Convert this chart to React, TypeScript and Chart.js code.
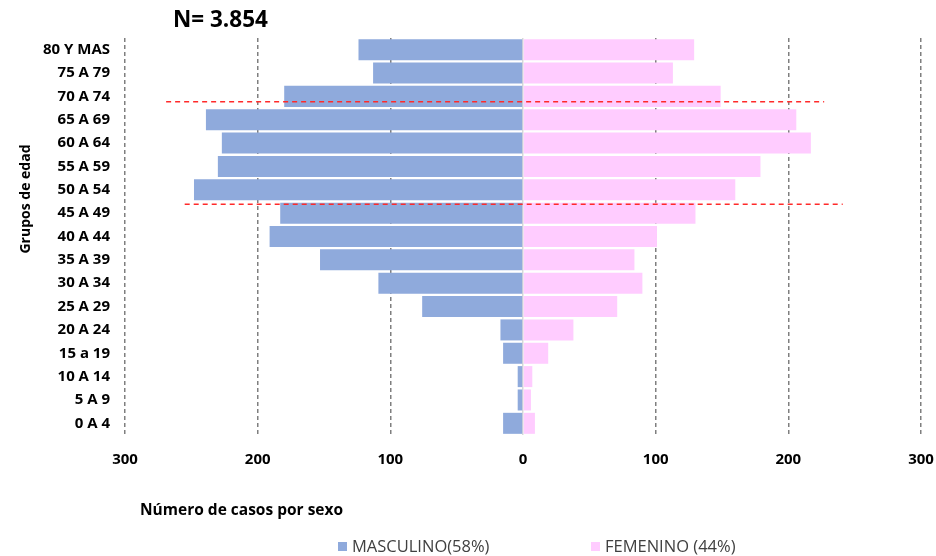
import React, { useEffect, useRef } from "react";
import { Chart, registerables } from "chart.js";

Chart.register(...registerables);

const categories = ["80 Y MAS", "75 A 79", "70 A 74", "65 A 69", "60 A 64", "55 A 59", "50 A 54", "45 A 49", "40 A 44", "35 A 39", "30 A 34", "25 A 29", "20 A 24", "15 a 19", "10 A 14", "5 A 9", "0 A 4"];
const masculino = [124, 113, 180, 239, 227, 230, 248, 183, 191, 153, 109, 76, 17, 15, 4, 4, 15];
const femenino = [129, 113, 149, 206, 217, 179, 160, 130, 101, 84, 90, 71, 38, 19, 7, 6, 9];
const seriesLabels = ["MASCULINO(58%)", "FEMENINO (44%)"];
const chartTitle = "N= 3.854";
const xTitle = "Número de casos por sexo";
const yTitle = "Grupos de edad";
const refLineY = [2.23, 6.62];
const refLineFrom = [-269, -255];
const refLineTo = [227, 241];

const FONT = "'Open Sans', sans-serif";
const MALE = "#8FAADC";
const FEMALE = "#FFCCFF";

const decor = {
  id: "decor",
  afterDatasetsDraw(chart: any) {
    const { ctx, scales } = chart;
    const x = scales.x;
    const y = scales.y;
    ctx.save();
    ctx.strokeStyle = "#FF2A2A";
    ctx.lineWidth = 1.5;
    ctx.setLineDash([5, 4]);
    for (let i = 0; i < refLineY.length; i++) {
      const py = y.getPixelForValue(refLineY[i]);
      ctx.beginPath();
      ctx.moveTo(x.getPixelForValue(refLineFrom[i]), py);
      ctx.lineTo(x.getPixelForValue(refLineTo[i]), py);
      ctx.stroke();
    }
    ctx.restore();
  },
  afterDraw(chart: any) {
    const { ctx } = chart;
    ctx.save();
    ctx.fillStyle = "#000";
    ctx.textBaseline = "middle";
    ctx.textAlign = "left";
    ctx.font = `bold 22.5px ${FONT}`;
    ctx.fillText(chartTitle, 173, 21);
    ctx.font = `bold 15.5px ${FONT}`;
    ctx.fillText(xTitle, 140, 511);
    ctx.save();
    ctx.translate(26, 199);
    ctx.rotate(-Math.PI / 2);
    ctx.textAlign = "center";
    ctx.font = `bold 14px ${FONT}`;
    ctx.fillText(yTitle, 0, 0);
    ctx.restore();
    // legend
    const items = [
      { color: MALE, text: seriesLabels[0], x: 338 },
      { color: FEMALE, text: seriesLabels[1], x: 591 },
    ];
    ctx.font = `16.5px ${FONT}`;
    for (const it of items) {
      ctx.fillStyle = it.color;
      ctx.fillRect(it.x, 542, 9, 9);
      ctx.fillStyle = "#404040";
      ctx.fillText(it.text, it.x + 14, 547);
    }
    ctx.restore();
  },
};

export default function App() {
  const ref = useRef<HTMLCanvasElement>(null);
  useEffect(() => {
    if (!ref.current) return;
    const chart = new Chart(ref.current, {
      type: "bar",
      data: {
        labels: categories,
        datasets: [
          {
            label: seriesLabels[0],
            data: masculino.map((v) => -v),
            backgroundColor: MALE,
            barPercentage: 0.9,
            categoryPercentage: 1,
          },
          {
            label: seriesLabels[1],
            data: femenino,
            backgroundColor: FEMALE,
            barPercentage: 0.9,
            categoryPercentage: 1,
          },
        ],
      },
      options: {
        indexAxis: "y",
        animation: false,
        responsive: true,
        maintainAspectRatio: false,
        layout: { padding: { top: 38, left: 0, right: 0, bottom: 0 } },
        plugins: { legend: { display: false }, tooltip: { enabled: false }, title: { display: false } },
        scales: {
          x: {
            stacked: true,
            min: -300,
            max: 300,
            afterFit: (s: any) => {
              s.height = 121;
              s.paddingRight = 15;
              s.paddingLeft = 0;
            },
            ticks: {
              stepSize: 100,
              callback: (v: any) => String(Math.abs(Number(v))),
              font: { family: FONT, size: 15, weight: "bold" },
              color: "#000",
              padding: 16,
              maxRotation: 0,
            },
            grid: {
              drawTicks: false,
              lineWidth: 1.5,
              color: (c: any) => (c.tick && c.tick.value === 0 ? "#D9D9D9" : "#7F7F7F"),
            },
            border: {
              display: false,
              dash: (c: any) => (c.tick && c.tick.value === 0 ? [] : [4, 3]),
            },
          },
          y: {
            stacked: true,
            afterFit: (s: any) => {
              s.width = 125;
            },
            ticks: {
              font: { family: FONT, size: 15, weight: "bold" },
              color: "#000",
              padding: 15,
              autoSkip: false,
            },
            grid: { display: false, drawTicks: false },
            border: { display: false },
          },
        },
      },
      plugins: [decor],
    });
    return () => chart.destroy();
  }, []);
  return (
    <div style={{ position: "absolute", left: 0, top: 0, width: 936, height: 556 }}>
      <canvas ref={ref} />
    </div>
  );
}
